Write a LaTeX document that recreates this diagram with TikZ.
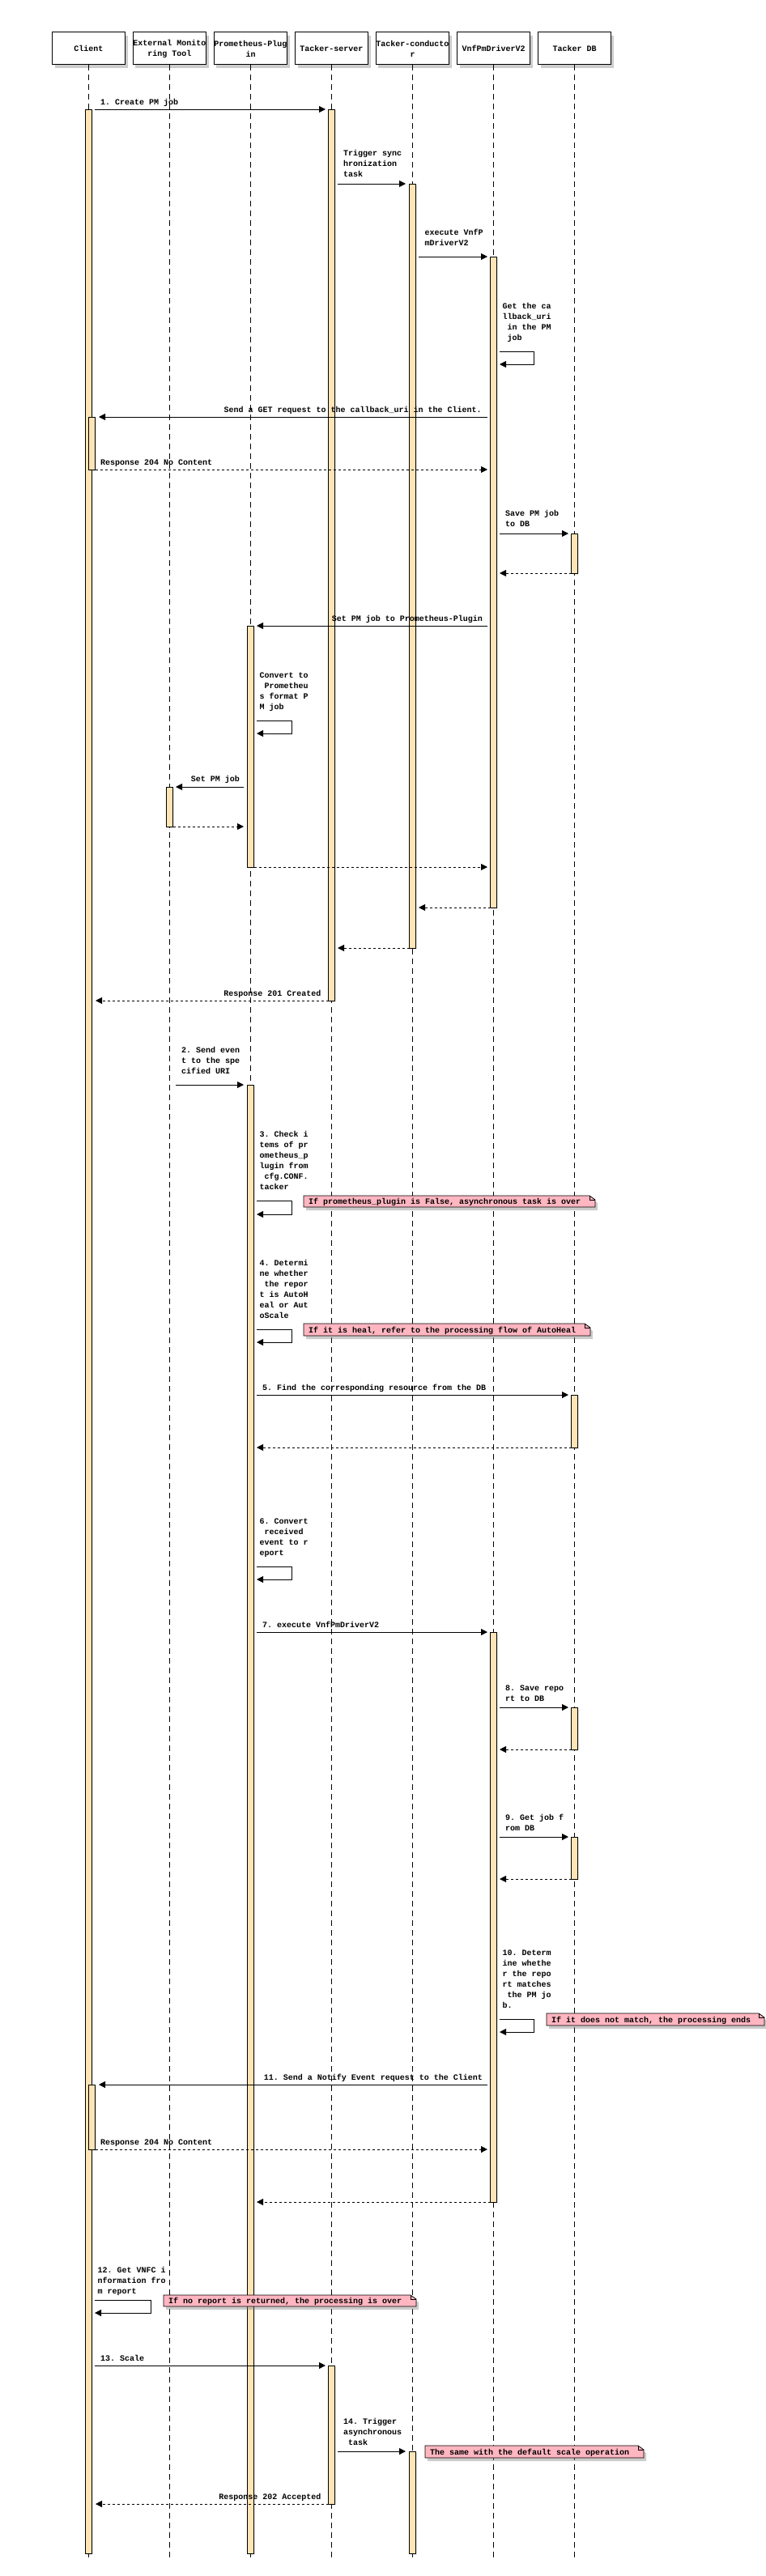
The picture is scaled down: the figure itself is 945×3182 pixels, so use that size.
\documentclass[tikz,border=0pt]{standalone}
\usepackage{fontspec}
\setmonofont{Liberation Mono}
\usetikzlibrary{arrows.meta,shadows}
\definecolor{actfill}{HTML}{FFE4B5}
\definecolor{notefill}{HTML}{FFB6C1}
\newcommand\lblfont{\ttfamily\bfseries\fontsize{10}{13}\selectfont}
\tikzset{
  actor/.style={draw,line width=1pt,fill=white,minimum width=90pt,minimum height=40pt,inner sep=0pt,outer sep=0pt,align=center,font=\lblfont,
    drop shadow={shadow xshift=3pt,shadow yshift=-4pt,opacity=0.4}},
  life/.style={line width=0.7pt,dash pattern=on 7pt off 5pt},
  actbar/.style={draw,line width=0.8pt,fill=actfill,drop shadow={shadow xshift=1.5pt,shadow yshift=-1.5pt,opacity=0.15}},
  msgline/.style={line width=0.9pt,-{Triangle[length=8pt,width=8pt]}},
  retline/.style={msgline,dash pattern=on 3pt off 3pt},
  lbl/.style={inner sep=0pt,outer sep=0pt,font=\lblfont,align=left,anchor=north west,execute at begin node={\rule{0pt}{9pt}}},
  lblr/.style={lbl,align=right,anchor=north east},
  notestyle/.style={draw,line width=0.8pt,fill=notefill,drop shadow={shadow xshift=3pt,shadow yshift=-4pt,opacity=0.4}},
}
\newcommand\smsg[4]{\coordinate (#1s) at (#2,#4);\coordinate (#1e) at (#3,#4);\draw[msgline] (#1s) -- (#1e);}
\newcommand\dmsg[4]{\coordinate (#1s) at (#2,#4);\coordinate (#1e) at (#3,#4);\draw[retline] (#1s) -- (#1e);}
\newcommand\selfm[5]{\coordinate (#1s) at (#2,#4);\coordinate (#1e) at (#2,#5);\draw[msgline] (#1s) -| (#3,#5) -- (#1e);}
\newcommand\abar[3]{\draw[actbar] ({#1-4},#2) rectangle ({#1+4},#3);}
\newcommand\pnote[6]{%
  \filldraw[notestyle] (#2,#4) -- ({#3-7},#4) -- (#3,{#4+5}) -- (#3,#5) -- (#2,#5) -- cycle;
  \draw[line width=0.6pt] ({#3-7},#4) -- ({#3-7},{#4+5}) -- (#3,{#4+5});
  \node[lbl] (#1) at ({#2+6},{(#4+#5)/2-5.5}) {#6};}
\begin{document}
\begin{tikzpicture}[x=1pt,y=-1pt]
\useasboundingbox (0,0) rectangle (945,3182);
% participants
\node[actor] (cl) at (109.5,60) {Client};
\node[actor] (ext) at (209.5,60) {External Monito\\ring Tool};
\node[actor] (prom) at (309.5,60) {Prometheus-Plug\\in};
\node[actor] (srv) at (409.5,60) {Tacker-server};
\node[actor] (cond) at (509.5,60) {Tacker-conducto\\r};
\node[actor] (drv) at (609.5,60) {VnfPmDriverV2};
\node[actor] (db) at (709.5,60) {Tacker DB};
% lifelines
\foreach \n in {cl,ext,prom,srv,cond,drv,db}
  \draw[life] (\n.south) -- (\n.south |- 0,3160);
% activation bars
\abar{109.5}{135}{3154}
\draw[actbar] (109.5,515) rectangle (117.5,580);
\draw[actbar] (109.5,2575) rectangle (117.5,2655);
\abar{409.5}{135}{1236}
\abar{409.5}{2922}{3093}
\abar{509.5}{227}{1171}
\abar{509.5}{3028}{3154}
\abar{609.5}{317}{1121}
\abar{609.5}{2016}{2720}
\abar{709.5}{659}{708}
\abar{709.5}{1723}{1788}
\abar{709.5}{2109}{2161}
\abar{709.5}{2269}{2321}
\abar{309.5}{773}{1071}
\abar{309.5}{1340}{3154}
\abar{209.5}{972}{1021}
% messages
\smsg{a1}{117}{402}{135}
\smsg{a2}{417}{501}{227}
\smsg{a3}{517}{602}{317}
\selfm{s4}{617}{659}{434}{450}
\smsg{a5}{602}{122}{515}
\dmsg{a6}{117.5}{602}{580}
\smsg{a7}{617}{702}{659}
\dmsg{a8}{705.5}{617}{708}
\smsg{a9}{602}{317}{773}
\selfm{s10}{317}{360}{890}{906}
\smsg{a11}{301}{217}{972}
\dmsg{a12}{213.5}{301}{1021}
\dmsg{a13}{313.5}{602}{1071}
\dmsg{a14}{605.5}{517}{1121}
\dmsg{a15}{505.5}{417}{1171}
\dmsg{a16}{405.5}{118}{1236}
\smsg{a17}{217}{301}{1340}
\selfm{s18}{317}{360}{1483}{1500}
\selfm{s19}{317}{360}{1642}{1658}
\smsg{a20}{317}{702}{1723}
\dmsg{a21}{705.5}{317}{1788}
\selfm{s22}{317}{360}{1935}{1951}
\smsg{a23}{317}{602}{2016}
\smsg{a24}{617}{702}{2109}
\dmsg{a25}{705.5}{617}{2161}
\smsg{a26}{617}{702}{2269}
\dmsg{a27}{705.5}{617}{2321}
\selfm{s28}{617}{659}{2494}{2510}
\smsg{a29}{602}{122}{2575}
\dmsg{a30}{117.5}{602}{2655}
\dmsg{a31}{605.5}{317}{2720}
\selfm{s32}{117}{186}{2841}{2857}
\smsg{a33}{117}{402}{2922}
\smsg{a34}{417}{501}{3028}
\dmsg{a35}{405.5}{118}{3093}
% labels
\node[lbl] (l1) at (124,120.5) {1. Create PM job};
\node[lbl] (l2) at (424,185.5) {Trigger sync\\hronization\\task};
\node[lbl] (l3) at (524.7,283.5) {execute VnfP\\mDriverV2};
\node[lbl] (l4) at (620.5,374.5) {Get the ca\\llback\_uri\\\hspace*{6pt}in the PM\\\hspace*{6pt}job};
\node[lblr] (l5) at (594.6,500.5) {Send a GET request to the callback\_uri in the Client.};
\node[lbl] (l6) at (124,565.5) {Response 204 No Content};
\node[lbl] (l7) at (624,630.5) {Save PM job\\to DB};
\node[lblr] (l8) at (596,758.5) {Set PM job to Prometheus-Plugin};
\node[lbl] (l9) at (320.5,830.5) {Convert to\\\hspace*{6pt}Prometheu\\s format P\\M job};
\node[lblr] (l10) at (296,956.5) {Set PM job};
\node[lblr] (l11) at (396.4,1221.5) {Response 201 Created};
\node[lbl] (l12) at (224,1293.5) {2. Send even\\t to the spe\\cified URI};
\node[lbl] (l13) at (320.5,1397.5) {3. Check i\\tems of pr\\ometheus\_p\\lugin from\\\hspace*{6pt}cfg.CONF.\\tacker};
\node[lbl] (l14) at (320.5,1556.5) {4. Determi\\ne whether\\\hspace*{6pt}the repor\\t is AutoH\\eal or Aut\\oScale};
\node[lbl] (l15) at (324,1708.5) {5. Find the corresponding resource from the DB};
\node[lbl] (l16) at (320.5,1875.5) {6. Convert\\\hspace*{6pt}received\\event to r\\eport};
\node[lbl] (l17) at (324,2001.5) {7. execute VnfPmDriverV2};
\node[lbl] (l18) at (624,2081.5) {8. Save repo\\rt to DB};
\node[lbl] (l19) at (624,2241.5) {9. Get job f\\rom DB};
\node[lbl] (l20) at (620.5,2408.5) {10. Determ\\ine whethe\\r the repo\\rt matches\\\hspace*{6pt}the PM jo\\b.};
\node[lblr] (l21) at (596,2560.5) {11. Send a Notify Event request to the Client};
\node[lbl] (l22) at (124,2640) {Response 204 No Content};
\node[lbl] (l23) at (120.5,2800.5) {12. Get VNFC i\\nformation fro\\m report};
\node[lbl] (l24) at (124,2907) {13. Scale};
\node[lbl] (l25) at (424,2987) {14. Trigger\\asynchronous\\\hspace*{6pt}task};
\node[lblr] (l26) at (396.4,3078) {Response 202 Accepted};
% notes
\pnote{n1}{375}{735}{1477}{1491}{If prometheus\_plugin is False, asynchronous task is over}
\pnote{n2}{375}{729}{1635}{1650}{If it is heal, refer to the processing flow of AutoHeal}
\pnote{n3}{675}{944}{2487}{2502}{If it does not match, the processing ends}
\pnote{n4}{202}{514}{2835}{2849}{If no report is returned, the processing is over}
\pnote{n5}{525}{795}{3021}{3036}{The same with the default scale operation}
\end{tikzpicture}
\end{document}
